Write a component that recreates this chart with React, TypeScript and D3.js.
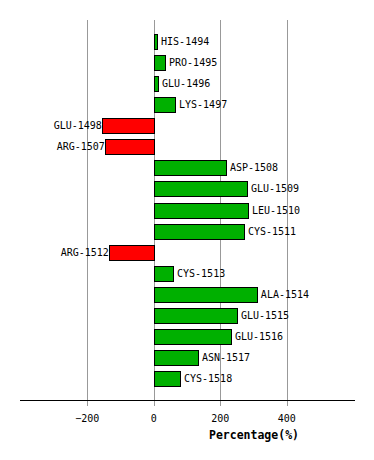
import React from 'react';
import * as d3 from 'd3';

const residues = [
  'HIS-1494', 'PRO-1495', 'GLU-1496', 'LYS-1497', 'GLU-1498', 'ARG-1507',
  'ASP-1508', 'GLU-1509', 'LEU-1510', 'CYS-1511', 'ARG-1512', 'CYS-1513',
  'ALA-1514', 'GLU-1515', 'GLU-1516', 'ASN-1517', 'CYS-1518'
];
const percentages = [10, 34, 13, 64, -156, -147, 217, 280, 283, 271, -135, 58, 310, 250, 232, 133, 79];
const tickValues = [-200, 0, 200, 400];

const W = 374;
const H = 460;
const plot = { left: 20, right: 355, top: 20, bottom: 400 };

export default function App() {
  const x = d3.scaleLinear().domain([-402, 605]).range([plot.left, plot.right]);
  const y = d3.scaleBand<string>()
    .domain(residues)
    .range([plot.top, plot.bottom])
    .paddingInner(0.29)
    .paddingOuter(0.65);
  const x0 = x(0);
  const mono = '"DejaVu Sans Mono", monospace';

  return (
    <div style={{ position: 'absolute', left: 0, top: 0 }}>
      <svg width={W} height={H} style={{ display: 'block', background: '#fff' }}>
        {tickValues.map(t => (
          <line key={'g' + t} x1={Math.round(x(t)) + 0.5} x2={Math.round(x(t)) + 0.5}
            y1={plot.top} y2={plot.bottom + 6} stroke="#999" strokeWidth={1} />
        ))}
        {residues.map((r, i) => {
          const v = percentages[i];
          const yy = y(r)!;
          const bx = v >= 0 ? x0 : x(v);
          const bw = Math.abs(x(v) - x0);
          const cy = yy + y.bandwidth() / 2;
          return (
            <g key={r}>
              <rect x={Math.round(bx) + 0.5} y={Math.round(yy) + 0.5} width={Math.round(bw)}
                height={Math.round(y.bandwidth())}
                fill={v >= 0 ? '#00b000' : '#ff0000'} stroke="#000" strokeWidth={1} />
              <text x={v >= 0 ? x(v) + 4 : x(v)} y={cy} dy="0.35em"
                textAnchor={v >= 0 ? 'start' : 'end'}
                fontFamily={mono} fontSize={10} fill="#000">{r}</text>
            </g>
          );
        })}
        <line x1={plot.left} x2={plot.right} y1={plot.bottom + 0.5} y2={plot.bottom + 0.5}
          stroke="#000" strokeWidth={1} />
        {tickValues.map(t => (
          <text key={'t' + t} x={x(t)} y={plot.bottom + 22} textAnchor="middle"
            fontFamily={mono} fontSize={10} fill="#000">{t === 0 ? '0' : d3.format('d')(t).replace('-', '\u2212')}</text>
        ))}
        <text x={254} y={439} textAnchor="middle" fontFamily={mono} fontSize={11.5}
          fontWeight="bold" fill="#000">Percentage(%)</text>
      </svg>
    </div>
  );
}
